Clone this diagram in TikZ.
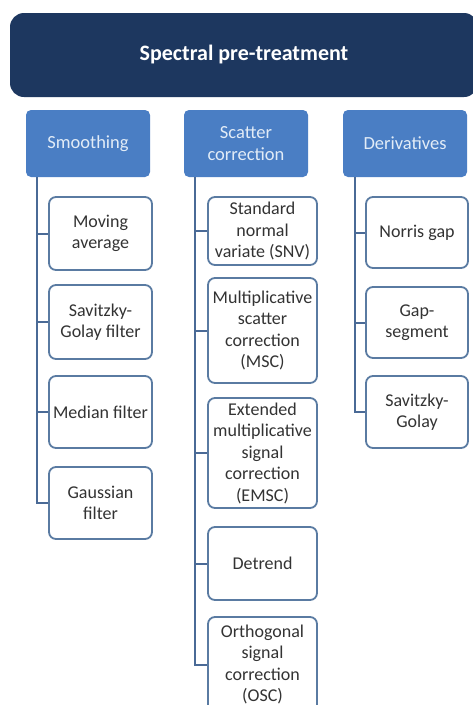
\documentclass[tikz,border=0pt]{standalone}
\usepackage{fontspec}
\setmainfont{Carlito}
\definecolor{navy}{HTML}{1D375F}
\definecolor{catblue}{HTML}{4A7EC4}
\definecolor{cattext}{HTML}{E2ECF7}
\definecolor{itemborder}{HTML}{5A7BA2}
\definecolor{connc}{HTML}{4A6A96}
\begin{document}
\begin{tikzpicture}[x=1pt,y=-1pt,
  banner/.style={fill=navy, rounded corners=14pt, text=white, inner sep=0pt,
    font=\bfseries\fontsize{22}{26}\selectfont},
  cat/.style={fill=catblue, rounded corners=5pt, text=cattext, align=center,
    inner sep=0pt, minimum width=124pt, minimum height=67pt,
    font=\fontsize{18.5}{22}\selectfont},
  item/.style={draw=itemborder, line width=1.8pt, fill=white, rounded corners=7pt,
    text=black!80, align=center, inner sep=0pt,
    font=\fontsize{18}{21.5}\selectfont},
  conn/.style={draw=connc, line width=2pt}]
\useasboundingbox (0,0) rectangle (473,705);
\fill[white] (0,0) rectangle (473,705);
\node[banner, minimum width=468pt, minimum height=84pt] (title) at (244,55) {Spectral pre-treatment};
% categories
\node[cat] (smooth) at (88,143.5) {Smoothing};
\node[cat] (scatter) at (246,143.5) {Scatter\\correction};
\node[cat] (deriv) at (405,143.5) {Derivatives};
% smoothing items
\node[item, minimum width=103pt, minimum height=73pt] (ma) at (100.5,233.5) {Moving\\average};
\node[item, minimum width=103pt, minimum height=74pt] (sgf) at (100.5,322) {Savitzky-\\Golay filter};
\node[item, minimum width=103pt, minimum height=72pt] (med) at (100.5,412) {Median filter};
\node[item, minimum width=103pt, minimum height=72pt] (gau) at (100.5,503) {Gaussian\\filter};
% scatter items
\node[item, minimum width=109pt, minimum height=68pt] (snv) at (262.5,231) {Standard\\normal\\variate (SNV)};
\node[item, minimum width=109pt, minimum height=105pt] (msc) at (262.5,330.5) {Multiplicative\\scatter\\correction\\(MSC)};
\node[item, minimum width=109pt, minimum height=110pt] (emsc) at (262.5,453) {Extended\\multiplicative\\signal\\correction\\(EMSC)};
\node[item, minimum width=109pt, minimum height=73pt] (det) at (262.5,563.5) {Detrend};
\node[item, minimum width=109pt, minimum height=95pt] (osc) at (262.5,664.5) {Orthogonal\\signal\\correction\\(OSC)};
% derivative items
\node[item, minimum width=102pt, minimum height=71pt] (norris) at (417,232.5) {Norris gap};
\node[item, minimum width=102pt, minimum height=71pt] (gap) at (417,322.5) {Gap-\\segment};
\node[item, minimum width=102pt, minimum height=72pt] (sg2) at (417,412) {Savitzky-\\Golay};
% connectors
\coordinate (s0) at ([xshift=11pt]smooth.south west);
\coordinate (c0) at ([xshift=11pt]scatter.south west);
\coordinate (d0) at ([xshift=12pt]deriv.south west);
\foreach \n in {ma,sgf,med,gau} \draw[conn] (s0) |- (\n.west);
\foreach \n in {snv,msc,emsc,det,osc} \draw[conn] (c0) |- (\n.west);
\foreach \n in {norris,gap,sg2} \draw[conn] (d0) |- (\n.west);
\end{tikzpicture}
\end{document}
